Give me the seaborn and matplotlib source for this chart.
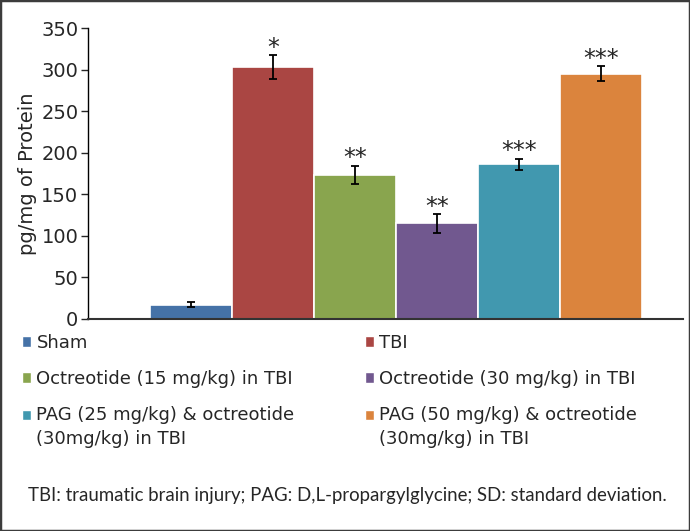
import numpy as np
import pandas as pd
import matplotlib
matplotlib.use("Agg")
import matplotlib.pyplot as plt
import seaborn as sns
from matplotlib.patches import Rectangle
from matplotlib.legend_handler import HandlerPatch

groups = ["Sham", "TBI", "Octreotide (15 mg/kg) in TBI", "Octreotide (30 mg/kg) in TBI",
          "PAG (25 mg/kg) & octreotide\n(30mg/kg) in TBI",
          "PAG (50 mg/kg) & octreotide\n(30mg/kg) in TBI"]
means = [17, 303, 173, 115, 186, 295]
sds = [3, 14, 11, 11, 7, 9]
stars = ["", "*", "**", "**", "***", "***"]
colors = ["#4572A7", "#AA4643", "#89A54E", "#71588F", "#4198AF", "#DB843D"]

df = pd.DataFrame({"group": groups, "value": means})

sns.set_style("white")
plt.rcParams["font.family"] = ["DejaVu Sans"]

fig = plt.figure(figsize=(6.9, 5.31), dpi=100)
ax = fig.add_axes([88 / 690, 1 - 319 / 531, (683 - 88) / 690, (319 - 28) / 531])

sns.barplot(data=df, x="group", y="value", hue="group", palette=colors,
            saturation=1, width=1.0, legend=False, edgecolor="white",
            linewidth=1.2, ax=ax)

# error bars + significance stars on top of each bar
for patch, m, s, st in zip(ax.patches, means, sds, stars):
    cx = patch.get_x() + patch.get_width() / 2
    ax.errorbar(cx, m, yerr=s, fmt="none", ecolor="black", elinewidth=1.3,
                capsize=2.6, capthick=1.3)
    if st:
        ax.annotate(st, (cx, m + s), xytext=(0, 0.5), textcoords="offset points",
                    ha="center", va="baseline", fontsize=17)

ax.set_xlim(-1.256, 6.0)
ax.set_ylim(0, 350)
ax.set_yticks(np.arange(0, 351, 50))
ax.set_xticks([])
ax.set_xlabel("")
ax.set_ylabel("pg/mg of Protein", fontsize=14, labelpad=3)
ax.tick_params(axis="y", labelsize=14, direction="out", length=5, width=1,
               left=True, pad=2)
for side in ["top", "right"]:
    ax.spines[side].set_visible(False)
ax.spines["left"].set_color("black")
ax.spines["left"].set_linewidth(1.0)
ax.spines["bottom"].set_color("#333333")
ax.spines["bottom"].set_linewidth(1.5)


# square legend markers, lifted to the first line for two-line labels
def make_square(legend, orig_handle, xdescent, ydescent, width, height, fontsize):
    lift = 9.3 if "\n" in orig_handle.get_label() else 0
    return Rectangle((-xdescent, -ydescent + lift), width, height)


handles = [Rectangle((0, 0), 1, 1, facecolor=c, label=g) for c, g in zip(colors, groups)]
order = [0, 2, 4, 1, 3, 5]
hm = {h: HandlerPatch(patch_func=make_square) for h in handles}
leg = fig.legend([handles[i] for i in order], [groups[i] for i in order],
                 handler_map=hm, ncol=2, loc="upper left",
                 bbox_to_anchor=(22 / 690, 1 - 334 / 531), frameon=False,
                 fontsize=13, handlelength=0.5, handleheight=0.5,
                 handletextpad=0.3, columnspacing=3.9, labelspacing=1.0,
                 borderpad=0, borderaxespad=0)
for t in leg.get_texts():
    t.set_linespacing(1.45)

fig.text(28 / 690, 1 - 496 / 531,
         "TBI: traumatic brain injury; PAG: D,L-propargylglycine; SD: standard deviation.",
         family="Lato", fontsize=13.4, va="center", ha="left")

fig.patches.append(Rectangle((0, 0), 1, 1, transform=fig.transFigure, fill=False,
                             edgecolor="#3c3c3c", linewidth=2.5))

fig.savefig("out.png", dpi=100, facecolor="white")
